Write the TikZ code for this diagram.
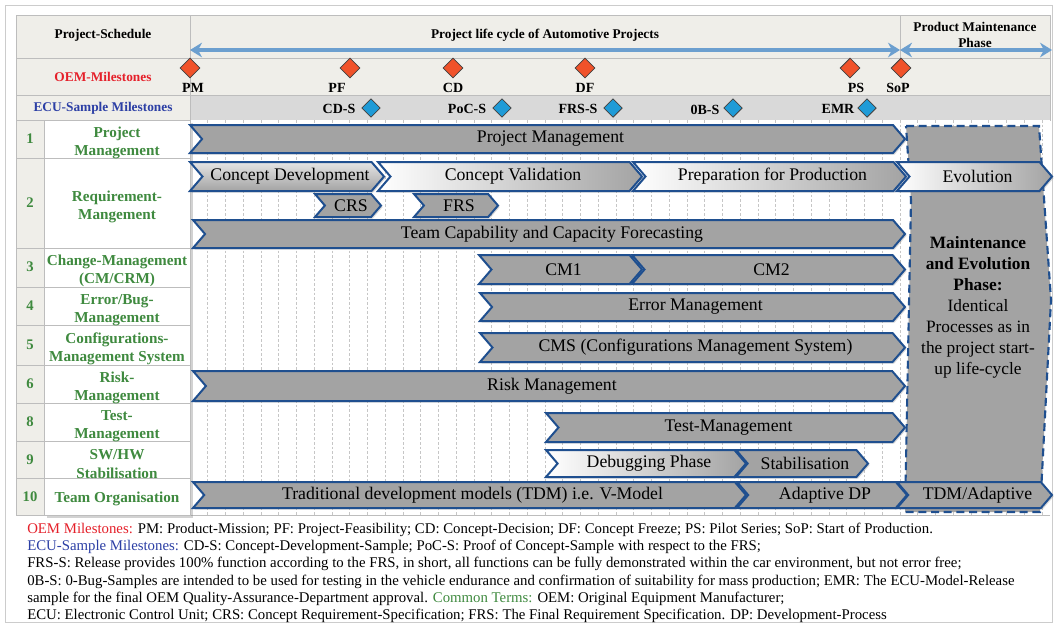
\documentclass[tikz,border=0pt]{standalone}
\usepackage{fontspec}
\setmainfont{Liberation Serif}
\usetikzlibrary{shapes.geometric,arrows.meta,shadows}

\definecolor{hdrbg}{HTML}{EFEEE9}
\definecolor{ecubg}{HTML}{D9D9D9}
\definecolor{cellline}{HTML}{BDBDBD}
\definecolor{gridln}{HTML}{C6C6C6}
\definecolor{frameln}{HTML}{CCCCCC}
\definecolor{chevfill}{HTML}{A3A3A3}
\definecolor{chevline}{HTML}{1F4F8F}
\definecolor{oemred}{HTML}{F0522A}
\definecolor{ecublue}{HTML}{1F9BD7}
\definecolor{lblgreen}{HTML}{3F8A3F}
\definecolor{txtred}{HTML}{E5202A}
\definecolor{txtblue}{HTML}{2C3FA5}
\definecolor{arrowblue}{HTML}{6C9FCF}

\tikzset{
  cell/.style={draw=cellline, line width=0.6pt, fill=hdrbg},
  hdrtext/.style={font=\fontsize{10}{12}\selectfont\bfseries, align=center, inner sep=0pt},
  rowlabel/.style={font=\fontsize{11.4}{13.8}\selectfont\bfseries, text=lblgreen, align=center, inner sep=0pt},
  rownum/.style={font=\fontsize{11}{13}\selectfont\bfseries, text=lblgreen, inner sep=0pt},
  gridline/.style={draw=gridln, line width=0.5pt, dash pattern=on 2pt off 1.5pt},
  oemms/.style={diamond, aspect=1, draw=black!75, line width=0.6pt, fill=oemred, minimum width=15pt, minimum height=15pt, inner sep=0pt},
  ecums/.style={diamond, aspect=1, draw=black!75, line width=0.6pt, fill=ecublue, minimum width=14pt, minimum height=14pt, inner sep=0pt},
  mslabel/.style={font=\fontsize{10.5}{12}\selectfont\bfseries, inner sep=0pt},
  lcarrow/.style={draw=arrowblue, line width=2.6pt, {Stealth[length=9pt,width=11pt]}-{Stealth[length=9pt,width=11pt]}},
  chevshape/.style={draw=chevline, line width=1.5pt, line join=miter, fill=chevfill,
    drop shadow={shadow xshift=1.2pt, shadow yshift=-1.2pt, opacity=0.3}},
  fade/.style={left color=white, right color=chevfill},
  fadedown/.style={top color=white!72!chevfill, bottom color=chevfill},
  chevtext/.style={font=\fontsize{13.3}{15}\selectfont, inner sep=0pt},
  legend/.style={font=\fontsize{11.1}{12.5}\selectfont, anchor=west, inner sep=0pt},
  maintbox/.style={draw=chevline, line width=1.6pt, dash pattern=on 6pt off 3.5pt, fill=chevfill},
}

% chevron bar: name, extra style, x left, x tip, y top, y bottom, text
\newcommand\chevbar[7]{%
  \path[chevshape,#2] (#3,#5) -- ({#4-0.43*(#6-#5)},#5) -- (#4,{(#5+#6)/2})
    -- ({#4-0.43*(#6-#5)},#6) -- (#3,#6) -- ({#3+0.43*(#6-#5)},{(#5+#6)/2}) -- cycle;
  \node[chevtext] (#1) at ({(#3+#4)/2+3},{(#5+#6)/2}) {#7};}

\begin{document}
\begin{tikzpicture}[x=0.75pt,y=-0.75pt]
\useasboundingbox (0,0) rectangle (1055,626);
\fill[white] (0,0) rectangle (1055,626);
\draw[frameln, line width=0.6pt] (5,5) rectangle (1052,622);

% header rows
\draw[cell] (16,15) rectangle (190,58);
\draw[cell] (190,15) rectangle (900,58);
\draw[cell] (900,15) rectangle (1050,58);
\draw[cell] (16,58) rectangle (190,95);
\draw[cell] (190,58) rectangle (1050,95);
\draw[cell] (16,95) rectangle (190,120);
\draw[cell, fill=ecubg] (190,95) rectangle (1050,120);

\node[hdrtext] (hsched) at (103,35) {Project-Schedule};
\node[hdrtext] (hlife) at (545,35) {Project life cycle of Automotive Projects};
\node[hdrtext] (hmaint) at (975,35) {Product Maintenance\\Phase};
\node[hdrtext, text=txtred] (hoem) at (103,77) {OEM-Milestones};
\node[hdrtext, text=txtblue] (hecu) at (103,108) {ECU-Sample Milestones};

% phase arrows
\coordinate (lcA) at (190,50);
\coordinate (lcB) at (900,50);
\coordinate (mpB) at (1052,50);
\draw[lcarrow] (lcA) -- (lcB);
\draw[lcarrow] (lcB) -- (mpB);

% OEM milestones
\node[oemms] (msPM) at (190,68) {};
\node[oemms] (msPF) at (350,68) {};
\node[oemms] (msCD) at (453,68) {};
\node[oemms] (msDF) at (585,68) {};
\node[oemms] (msPS) at (850,68) {};
\node[oemms] (msSoP) at (901,68) {};
\node[mslabel] (lbPM) at (193,88) {PM};
\node[mslabel] (lbPF) at (337,88) {PF};
\node[mslabel] (lbCD) at (453,88) {CD};
\node[mslabel] (lbDF) at (585,88) {DF};
\node[mslabel] (lbPS) at (856,88) {PS};
\node[mslabel] (lbSoP) at (898,88) {SoP};

% ECU sample milestones
\node[ecums] (esCD) at (371,108) {};
\node[ecums] (esPoC) at (502,108) {};
\node[ecums] (esFRS) at (613,108) {};
\node[ecums] (es0B) at (733,108) {};
\node[ecums] (esEMR) at (867,108) {};
\node[mslabel] (elCD) at (339,109) {CD-S};
\node[mslabel] (elPoC) at (467,109) {PoC-S};
\node[mslabel] (elFRS) at (578,109) {FRS-S};
\node[mslabel] (el0B) at (705,110) {0B-S};
\node[mslabel] (elEMR) at (838,109) {EMR};

% time grid
\fill[white] (190,120) rectangle (1050,515);
\foreach \k in {1,...,48} {\draw[gridline] ({190+17.75*\k},120) -- ({190+17.75*\k},515);}
\draw[cellline, line width=0.5pt] (190,515) -- (1050,515);

% row header panel
\fill[hdrbg] (16,120) rectangle (44,515);
\path[fill=white, drop shadow={shadow xshift=2pt, shadow yshift=-2pt, opacity=0.35}] (44,120) rectangle (190,515);
\draw[cellline, line width=0.6pt] (16,120) rectangle (190,515);
\draw[cellline, line width=0.6pt] (44,120) -- (44,515);
\foreach \yy in {158,248,287,325,365,403,441,478} {\draw[cellline, line width=0.6pt] (16,\yy) -- (190,\yy);}

\node[rownum] (n1) at (30,139) {1};
\node[rownum] (n2) at (30,203) {2};
\node[rownum] (n3) at (30,267) {3};
\node[rownum] (n4) at (30,306) {4};
\node[rownum] (n5) at (30,345) {5};
\node[rownum] (n6) at (30,384) {6};
\node[rownum] (n8) at (30,422) {8};
\node[rownum] (n9) at (30,460) {9};
\node[rownum] (n10) at (30,497) {10};

\node[rowlabel] (r1) at (117,143) {Project\\Management};
\node[rowlabel] (r2) at (117,207) {Requirement-\\Mangement};
\node[rowlabel] (r3) at (117,271) {Change-Management\\(CM/CRM)};
\node[rowlabel] (r4) at (117,310) {Error/Bug-\\Management};
\node[rowlabel] (r5) at (117,349) {Configurations-\\Management System};
\node[rowlabel] (r6) at (117,388) {Risk-\\Management};
\node[rowlabel] (r8) at (117,426) {Test-\\Management};
\node[rowlabel] (r9) at (117,464) {SW/HW\\Stabilisation};
\node[rowlabel] (r10) at (117,499) {Team Organisation};

% maintenance phase block
\path[maintbox] (906,126) -- (1039,126) -- (1051,300) -- (1040,512) -- (905,512) -- (911,200) -- cycle;
\node[font=\fontsize{13}{15.8}\selectfont, align=center, inner sep=0pt, anchor=north] (maint) at (978,236)
  {\textbf{Maintenance}\\\textbf{and Evolution}\\\textbf{Phase:}\\Identical\\Processes as in\\the project start-\\up life-cycle};

% process bars
\chevbar{pm}{}{190}{905}{125}{153}{Project Management}
\chevbar{cdev}{fadedown}{190}{384}{162}{191}{Concept Development}
\chevbar{cval}{fade}{378}{642}{162}{191}{Concept Validation}
\chevbar{prep}{fade}{633}{906}{162}{191}{Preparation for Production}
\chevbar{evol}{fade}{897}{1052}{162}{191}{Evolution}
\chevbar{crs}{}{315}{381}{194}{217}{CRS}
\chevbar{frs}{}{414}{498}{194}{217}{FRS}
\chevbar{tccf}{}{193}{905}{220}{248}{Team Capability and Capacity Forecasting}
\chevbar{cma}{}{479}{642}{255}{284}{CM1}
\chevbar{cmb}{}{632}{905}{255}{284}{CM2}
\chevbar{errm}{}{480}{905}{293}{321}{Error Management}
\chevbar{cms}{}{480}{905}{333}{362}{CMS (Configurations Management System)}
\chevbar{risk}{}{193}{905}{371}{401}{Risk Management}
\chevbar{test}{}{546}{905}{413}{442}{Test-Management}
\chevbar{debug}{fade}{546}{746}{450}{477}{Debugging Phase}
\chevbar{stab}{}{736}{868}{450}{477}{Stabilisation}
\chevbar{tdm}{}{193}{746}{482}{508}{Traditional development models (TDM) i.e. V-Model}
\chevbar{adp}{}{737}{907}{482}{508}{Adaptive DP}
\chevbar{tdma}{}{897}{1052}{482}{508}{TDM/Adaptive}

% legend
\node[legend] (lg1) at (27,530) {\textcolor{txtred}{OEM Milestones:} PM: Product-Mission; PF: Project-Feasibility; CD: Concept-Decision; DF: Concept Freeze; PS: Pilot Series; SoP: Start of Production.};
\node[legend] (lg2) at (27,547) {\textcolor{txtblue}{ECU-Sample Milestones:} CD-S: Concept-Development-Sample; PoC-S: Proof of Concept-Sample with respect to the FRS;};
\node[legend] (lg3) at (27,564) {FRS-S: Release provides 100\% function according to the FRS, in short, all functions can be fully demonstrated within the car environment, but not error free;};
\node[legend] (lg4) at (27,582) {0B-S: 0-Bug-Samples are intended to be used for testing in the vehicle endurance and confirmation of suitability for mass production; EMR: The ECU-Model-Release};
\node[legend] (lg5) at (27,599) {sample for the final OEM Quality-Assurance-Department approval. \textcolor{lblgreen}{Common Terms:} OEM: Original Equipment Manufacturer;};
\node[legend] (lg6) at (27,616) {ECU: Electronic Control Unit; CRS: Concept Requirement-Specification; FRS: The Final Requirement Specification. DP: Development-Process};
\end{tikzpicture}
\end{document}
